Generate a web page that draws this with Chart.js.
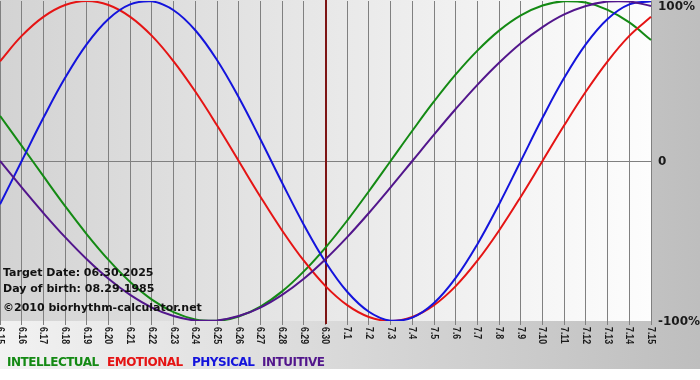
<!DOCTYPE html>
<html>
<head>
<meta charset="utf-8">
<script src="https://cdn.jsdelivr.net/npm/chart.js@4.4.1/dist/chart.umd.min.js"></script>
<style>
  body { margin: 0; background: #ffffff; }
  #wrap { position: relative; width: 700px; height: 380px; }
  canvas { position: absolute; left: 0; top: 0; }
  .info, .leg { position: absolute; font-family: "DejaVu Sans", Verdana, sans-serif; font-weight: bold; white-space: nowrap; }
  .info { left: 3px; font-size: 11px; line-height: 13px; color: #111111; }
  .leg { top: 355px; font-size: 12px; line-height: 14px; letter-spacing: -0.5px; }
</style>
</head>
<body>
<div id="wrap">
  <canvas id="chart" width="700" height="380"></canvas>
  <div class="info" style="top:266px">Target Date: 06.30.2025</div>
  <div class="info" style="top:282px">Day of birth: 08.29.1985</div>
  <div class="info" style="top:301px">©2010 biorhythm-calculator.net</div>
  <div class="leg" style="left:7px;color:#148a14">INTELLECTUAL</div>
  <div class="leg" style="left:107px;color:#e51414">EMOTIONAL</div>
  <div class="leg" style="left:192px;color:#1414dc">PHYSICAL</div>
  <div class="leg" style="left:262px;color:#52168c">INTUITIVE</div>
</div>
<script>
const days = [
    '6.15', '6.16', '6.17', '6.18', '6.19', '6.20', '6.21', '6.22', '6.23', '6.24', '6.25',
    '6.26', '6.27', '6.28', '6.29', '6.30', '7.1', '7.2', '7.3', '7.4', '7.5', '7.6',
    '7.7', '7.8', '7.9', '7.10', '7.11', '7.12', '7.13', '7.14', '7.15',
];
const targetDay = '6.30';

const intellectual = [0.282, 0.095, -0.095, -0.282, -0.458, -0.618, -0.756, -0.866, -0.945,
    -0.990, -0.999, -0.972, -0.910, -0.815, -0.690, -0.541, -0.372, -0.189, 0, 0.189, 0.372,
    0.541, 0.690, 0.815, 0.910, 0.972, 0.999, 0.990, 0.945, 0.866, 0.756];
const emotional = [0.623, 0.782, 0.901, 0.975, 1.000, 0.975, 0.901, 0.782, 0.623, 0.434, 0.223,
    0, -0.223, -0.434, -0.623, -0.782, -0.901, -0.975, -1.000, -0.975, -0.901, -0.782, -0.623,
    -0.434, -0.223, 0, 0.223, 0.434, 0.623, 0.782, 0.901];
const physical = [-0.270, 0, 0.270, 0.520, 0.731, 0.888, 0.979, 0.998, 0.942, 0.817, 0.631,
    0.398, 0.136, -0.136, -0.398, -0.631, -0.817, -0.942, -0.998, -0.979, -0.888, -0.731,
    -0.520, -0.270, 0, 0.270, 0.520, 0.731, 0.888, 0.979, 0.998];
const intuitive = [0, -0.165, -0.325, -0.476, -0.614, -0.736, -0.837, -0.916, -0.969, -0.997,
    -0.997, -0.969, -0.916, -0.837, -0.736, -0.614, -0.476, -0.325, -0.165, 0, 0.165, 0.325,
    0.476, 0.614, 0.736, 0.837, 0.916, 0.969, 0.997, 0.997, 0.969];

const yTicks = [1, 0, -1];
const yTickLabels = ['100%', '0', '-100%'];

const colors = {
    intellectual: '#148a14',
    emotional: '#e51414',
    physical: '#1414dc',
    intuitive: '#52168c',
    grid: '#808080',
    marker: '#7d1414',
};

// backgrounds: grey frame gradient + lighter plot gradient
const backdrop = {
    id: 'backdrop',
    beforeDraw(chart) {
        const { ctx, chartArea: a } = chart;
        ctx.save();
        let g = ctx.createLinearGradient(0, 0, chart.width, 0);
        g.addColorStop(0, '#f2f2f2');
        g.addColorStop(1, '#bebebe');
        ctx.fillStyle = g;
        ctx.fillRect(0, 0, chart.width, 369);
        g = ctx.createLinearGradient(a.left, 0, a.right, 0);
        g.addColorStop(0, '#d3d3d3');
        g.addColorStop(1, '#fdfdfd');
        ctx.fillStyle = g;
        ctx.fillRect(a.left, 0, a.right - a.left, a.bottom);
        ctx.restore();
    },
};

// dark red line on target date
const marker = {
    id: 'marker',
    beforeDatasetsDraw(chart) {
        const { ctx, chartArea: a, scales } = chart;
        const x = Math.round(scales.x.getPixelForValue(days.indexOf(targetDay)));
        ctx.save();
        ctx.strokeStyle = colors.marker;
        ctx.lineWidth = 2;
        ctx.beginPath();
        ctx.moveTo(x, 0);
        ctx.lineTo(x, a.bottom + 3);
        ctx.stroke();
        ctx.restore();
    },
};

// rotated day labels and right-hand percent labels
const axisText = {
    id: 'axisText',
    afterDraw(chart) {
        const { ctx, chartArea: a, scales } = chart;
        ctx.save();
        ctx.fillStyle = '#1a1a1a';
        ctx.font = 'bold 11px "Liberation Sans", Arial, sans-serif';
        ctx.textAlign = 'left';
        ctx.textBaseline = 'middle';
        days.forEach((d, i) => {
            const x = scales.x.getPixelForValue(i);
            ctx.save();
            ctx.translate(x, a.bottom + 6);
            ctx.rotate(Math.PI / 2);
            ctx.scale(0.8, 1);
            ctx.fillText(d, 0, 0);
            ctx.restore();
        });
        ctx.font = 'bold 12px "DejaVu Sans", Verdana, sans-serif';
        yTicks.forEach((v, i) => {
            const y = Math.max(scales.y.getPixelForValue(v) + 1, 7);
            ctx.fillText(yTickLabels[i], 658, y);
        });
        ctx.restore();
    },
};

function line(label, data, color) {
    return {
        label,
        data,
        borderColor: color,
        borderWidth: 2,
        pointRadius: 0,
        tension: 0.4,
        fill: false,
    };
}

new Chart(document.getElementById('chart'), {
    type: 'line',
    data: {
        labels: days,
        datasets: [
            line('INTUITIVE', intuitive, colors.intuitive),
            line('PHYSICAL', physical, colors.physical),
            line('EMOTIONAL', emotional, colors.emotional),
            line('INTELLECTUAL', intellectual, colors.intellectual),
        ],
    },
    options: {
        responsive: false,
        animation: false,
        devicePixelRatio: 1,
        layout: { padding: { top: 1, left: 0, right: 0, bottom: 0 } },
        plugins: {
            legend: { display: false },
            tooltip: { enabled: false },
        },
        scales: {
            x: {
                offset: false,
                border: { display: false },
                grid: { color: colors.grid, lineWidth: 1, drawTicks: true, tickLength: 4 },
                ticks: { display: false },
                afterFit(scale) { scale.height = 59; },
            },
            y: {
                position: 'right',
                min: -1,
                max: 1,
                border: { display: false },
                grid: {
                    drawTicks: false,
                    color: (c) => (c.tick && c.tick.value === 0 ? colors.grid : 'rgba(0,0,0,0)'),
                },
                ticks: { display: false, stepSize: 1 },
                afterFit(scale) { scale.width = 49; },
            },
        },
    },
    plugins: [backdrop, marker, axisText],
});
</script>
</body>
</html>
